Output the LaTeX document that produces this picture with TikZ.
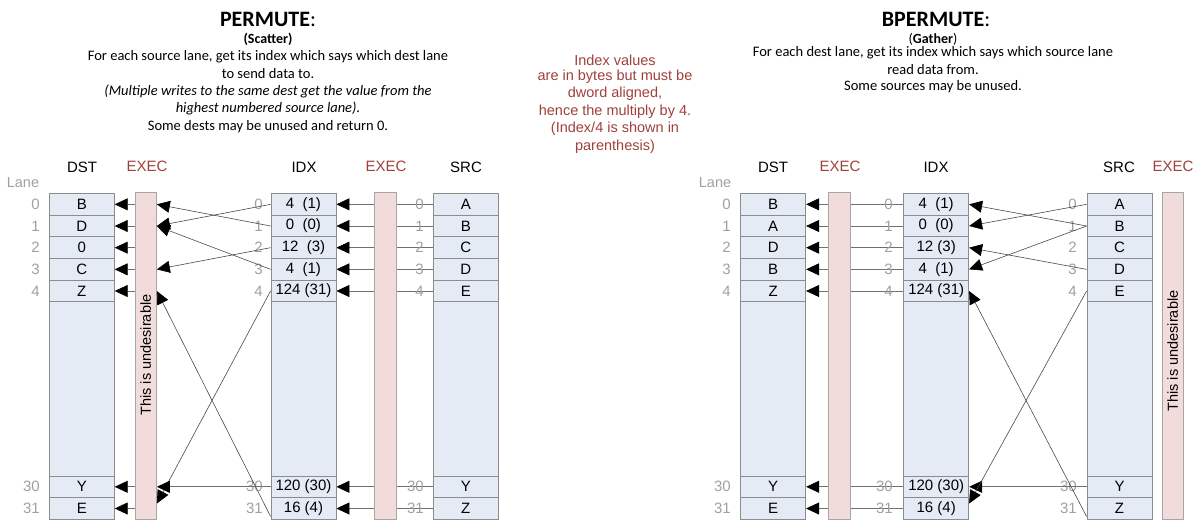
\documentclass[tikz,border=0pt]{standalone}
\usepackage{fontspec}
\setmainfont{Liberation Sans}
\newfontfamily\calfont{Carlito}
\usetikzlibrary{arrows.meta,backgrounds,calc}
\definecolor{cellfill}{HTML}{E4EBF5}
\definecolor{cellline}{HTML}{8C8C8C}
\definecolor{execfill}{HTML}{F2DCDB}
\definecolor{execline}{HTML}{A6A6A6}
\definecolor{darkred}{HTML}{A0403C}
\definecolor{lanegray}{HTML}{A0A0A0}
\definecolor{hline}{HTML}{707070}
\definecolor{cline}{HTML}{4A4A4A}
\begin{document}
\begin{tikzpicture}[x=1pt,y=-1pt,
 cell/.style={draw=cellline,fill=cellfill,line width=0.8pt,minimum width=65pt,minimum height=21.67pt,inner sep=0pt,font=\fontsize{15}{17}\selectfont},
 bigcell/.style={cell,minimum height=174.15pt},
 execbar/.style={draw=execline,fill=execfill,line width=0.8pt,minimum width=21.5pt,minimum height=326.8pt,inner sep=0pt},
 hdr/.style={font=\fontsize{15}{17}\selectfont,inner sep=0pt},
 exechdr/.style={hdr,text=darkred},
 lanenum/.style={font=\fontsize{15}{17}\selectfont,text=lanegray,anchor=east,inner sep=0pt},
 lanehdr/.style={font=\fontsize{14.5}{16}\selectfont,text=lanegray,inner sep=0pt},
 harr/.style={draw=hline,line width=0.7pt,-{Triangle[length=13pt,width=12pt,color=black]}},
 carr/.style={draw=cline,line width=0.6pt,-{Triangle[length=13pt,width=12pt,color=black]}},
 body/.style={font=\calfont\fontsize{14.5}{16}\selectfont,inner sep=0pt},
 note/.style={font=\fontsize{14.5}{16}\selectfont,text=darkred,inner sep=0pt},
 vtext/.style={rotate=90,font=\fontsize{14.5}{16}\selectfont,inner sep=0pt}
]
\useasboundingbox (0,0) rectangle (1199,520);

% ---------- texts ----------
\node[font=\calfont\bfseries\fontsize{22}{26}\selectfont,inner sep=0pt] (ltitle) at (268,19) {PERMUTE\textmd{:}};
\node[font=\calfont\bfseries\fontsize{14}{16}\selectfont,inner sep=0pt] (lsub) at (268,39) {(Scatter)};
\node[body] (l1) at (268,57) {For each source lane, get its index which says which dest lane};
\node[body] (l2) at (268,74) {to send data to.};
\node[body] (l3) at (268,91) {\itshape (Multiple writes to the same dest get the value from the};
\node[body] (l4) at (268,108) {\itshape highest numbered source lane).};
\node[body] (l5) at (268,127) {Some dests may be unused and return 0.};

\node[font=\calfont\bfseries\fontsize{22}{26}\selectfont,inner sep=0pt] (rtitle) at (936,19) {BPERMUTE\textmd{:}};
\node[font=\calfont\fontsize{14}{16}\selectfont,inner sep=0pt] (rsub) at (933,39) {(\textbf{Gather})};
\node[body] (r1) at (933,53) {For each dest lane, get its index which says which source lane};
\node[body] (r2) at (933,70) {read data from.};
\node[body] (r3) at (933,87) {Some sources may be unused.};

\node[note] (n1) at (615,60) {Index values};
\node[note] (n2) at (615,77) {are in bytes but must be};
\node[note] (n3) at (615,94) {dword aligned,};
\node[note] (n4) at (615,112) {hence the multiply by 4.};
\node[note] (n5) at (615,129) {(Index/4 is shown in};
\node[note] (n6) at (615,147) {parenthesis)};

% ---------- headers ----------
\node[hdr] (hLd) at (82,167) {DST};
\node[exechdr] (hLe1) at (147,166) {EXEC};
\node[hdr] (hLi) at (304,167) {IDX};
\node[exechdr] (hLe2) at (386,166) {EXEC};
\node[hdr] (hLs) at (466,167) {SRC};
\node[lanehdr] (hLl) at (23,183) {Lane};

\node[hdr] (hRd) at (773,167) {DST};
\node[exechdr] (hRe1) at (840,166) {EXEC};
\node[hdr] (hRi) at (936,167) {IDX};
\node[hdr] (hRs) at (1119,167) {SRC};
\node[exechdr] (hRe2) at (1173,166) {EXEC};
\node[lanehdr] (hRl) at (715,183) {Lane};

% ---------- EXEC bars ----------
\node[execbar] (Lbar1) at (145.7,355.9) {};
\node[execbar] (Lbar2) at (385.2,355.9) {};
\node[execbar] (Rbar1) at (839.4,355.9) {};
\node[execbar] (Rbar2) at (1172.8,355.9) {};
\node[vtext] (Lund) at (145.7,355) {This is undesirable};
\node[vtext] (Rund) at (1172.8,351) {This is undesirable};

% ---------- cells ----------
\foreach \r/\yy/\d/\ii/\s/\rd/\ri in {
  0/204.33/B/{4~~(1)}/A/B/{4~~(1)},
  1/226.0/D/{0~~(0)}/B/A/{0~~(0)},
  2/247.67/0/{12~~(3)}/C/D/{12 (3)},
  3/269.34/C/{4~~(1)}/D/B/{4~~(1)},
  4/291.0/Z/{124 (31)}/E/Z/{124 (31)},
  30/486.8/Y/{120 (30)}/Y/Y/{120 (30)},
  31/508.5/E/{16 (4)}/Z/E/{16 (4)}}{
  \node[cell] (Ld\r) at (81.8,\yy) {\d};
  \node[cell] (Li\r) at (303.5,\yy) {\ii};
  \node[cell] (Ls\r) at (465.8,\yy) {\s};
  \node[cell] (Rd\r) at (773.2,\yy) {\rd};
  \node[cell] (Ri\r) at (936.2,\yy) {\ri};
  \node[cell] (Rs\r) at (1119.5,\yy) {\s};
  \node[lanenum] (Lnd\r) at (40,\yy) {\r};
  \node[lanenum] (Lni\r) at (263,\yy) {\r};
  \node[lanenum] (Lns\r) at (424,\yy) {\r};
  \node[lanenum] (Rnd\r) at (731,\yy) {\r};
  \node[lanenum] (Rni\r) at (893,\yy) {\r};
  \node[lanenum] (Rns\r) at (1077,\yy) {\r};
}
\node[bigcell] (Ldb) at (81.8,388.9) {};
\node[bigcell] (Lib) at (303.5,388.9) {};
\node[bigcell] (Lsb) at (465.8,388.9) {};
\node[bigcell] (Rdb) at (773.2,388.9) {};
\node[bigcell] (Rib) at (936.2,388.9) {};
\node[bigcell] (Rsb) at (1119.5,388.9) {};

% ---------- connectors passing behind EXEC bars ----------
\begin{pgfonlayer}{background}
\foreach \r in {0,1,2,3,4,30,31}{
  \draw[harr] (Ls\r.west) -- (Li\r.east);
  \draw[harr] (Ri\r.west) -- (Rd\r.east);
}
\end{pgfonlayer}

% ---------- left: EXEC -> DST ----------
\foreach \r in {0,1,2,3,4,30,31}{
  \draw[harr] (Lbar1.west |- Ld\r.east) -- (Ld\r.east);
}
% ---------- left: IDX -> DST lanes (scatter) ----------
\draw[carr] (Li0.west) -- (Lbar1.east |- Ld1.east);
\draw[carr] (Li1.west) -- (Lbar1.east |- Ld0.east);
\draw[carr] (Li2.west) -- (Lbar1.east |- Ld3.east);
\draw[carr] (Li3.west) -- (Lbar1.east |- Ld1.east);
\draw[carr] (Li4.west) -- ($(Lbar1.east |- Ld31.east)+(0,-5)$);
\draw[harr] (Li30.west) -- (Lbar1.east |- Ld30.east);
\draw[carr] ($(Li31.west)+(0,8)$) -- (Lbar1.east |- Ld4.east);

% ---------- right: SRC -> IDX lanes (gather) ----------
\draw[carr] (Rs1.west) -- (Ri0.east);
\draw[carr] (Rs0.west) -- (Ri1.east);
\draw[carr] (Rs3.west) -- (Ri2.east);
\draw[carr] (Rs1.west) -- (Ri3.east);
\draw[carr] ($(Rs31.west)+(0,8)$) -- (Ri4.east);
\draw[harr] (Rs30.west) -- (Ri30.east);
\draw[carr] (Rs4.west) -- ($(Ri31.east)+(0,-5)$);
\end{tikzpicture}
\end{document}
